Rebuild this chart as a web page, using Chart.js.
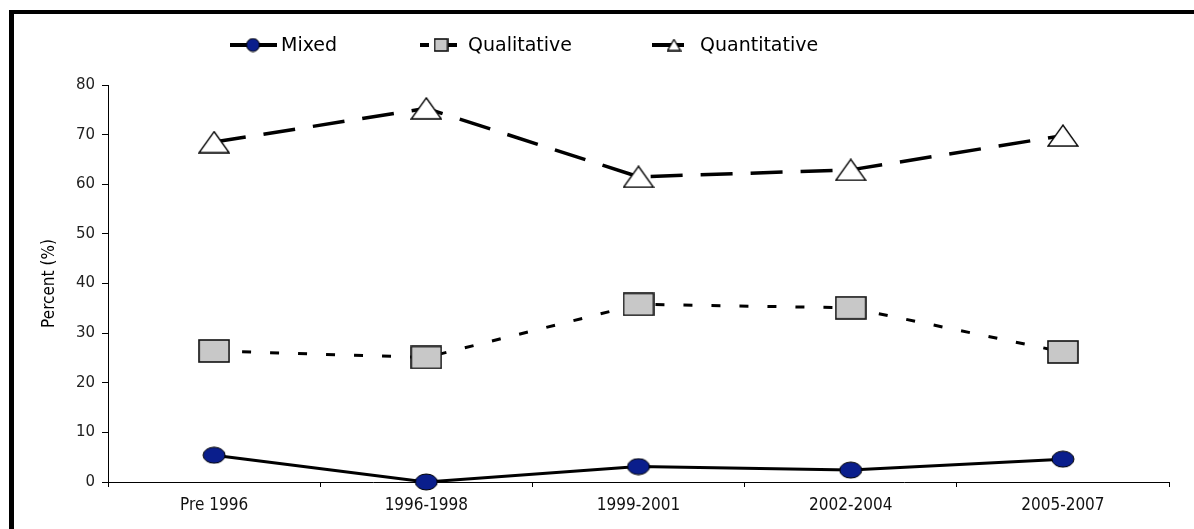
<!DOCTYPE html>
<html>
<head>
<meta charset="utf-8">
<script src="https://cdn.jsdelivr.net/npm/chart.js@4"></script>
<style>
  html, body { margin: 0; padding: 0; background: #fff; }
  #wrap { position: relative; width: 1194px; height: 529px; }
</style>
</head>
<body>
<div id="wrap"><canvas id="myChart"></canvas></div>
<script>
// data
const periods = ['Pre 1996', '1996-1998', '1999-2001', '2002-2004', '2005-2007'];
const mixedValues = [5.4, 0, 3.1, 2.4, 4.6];
const qualitativeValues = [26.4, 25.1, 35.8, 35.1, 26.2];
const quantitativeValues = [68.5, 75.3, 61.5, 62.9, 69.8];
const yTicks = [0, 10, 20, 30, 40, 50, 60, 70, 80];

// marker images (the original markers are a bit wider than tall)
function makeEllipse(w, h) {
    const c = document.createElement('canvas');
    c.width = w + 2; c.height = h + 2;
    const g = c.getContext('2d');
    g.beginPath();
    g.ellipse(c.width / 2, c.height / 2, w / 2, h / 2, 0, 0, Math.PI * 2);
    g.fillStyle = '#0a1e8c';
    g.fill();
    g.lineWidth = 1;
    g.strokeStyle = '#000';
    g.stroke();
    return c;
}
function makeRect(w, h) {
    const c = document.createElement('canvas');
    c.width = w + 2; c.height = h + 2;
    const g = c.getContext('2d');
    g.fillStyle = '#c8c8c8';
    g.fillRect(1, 1, w, h);
    g.lineWidth = 1.6;
    g.strokeStyle = '#111';
    g.strokeRect(1, 1, w, h);
    return c;
}
function makeTriangle(w, h) {
    const c = document.createElement('canvas');
    c.width = w + 2; c.height = h + 2;
    const g = c.getContext('2d');
    g.beginPath();
    g.moveTo(c.width / 2, 1);
    g.lineTo(w + 1, h + 1);
    g.lineTo(1, h + 1);
    g.closePath();
    g.fillStyle = '#fff';
    g.fill();
    g.lineWidth = 1.3;
    g.strokeStyle = '#000';
    g.stroke();
    return c;
}

const markers = [makeEllipse(22, 16), makeRect(30, 22), makeTriangle(30, 21)];
const legendMarkers = [makeEllipse(13, 13), makeRect(13, 12), makeTriangle(13, 11)];

// frame: thick black edge on top and left
const framePlugin = {
    id: 'frame',
    beforeDraw(chart) {
        const ctx = chart.ctx;
        ctx.save();
        ctx.fillStyle = '#fff';
        ctx.fillRect(0, 0, chart.width, chart.height);
        ctx.fillStyle = '#000';
        ctx.fillRect(9, 10, 5, chart.height - 10);
        ctx.fillRect(9, 10, chart.width - 9, 4);
        ctx.restore();
    }
};

// legend drawn like the original: line sample with marker on it
const legendPlugin = {
    id: 'lineLegend',
    afterDraw(chart) {
        const ctx = chart.ctx;
        const y = 45;
        const items = [
            { x0: 230, x1: 277, mx: 253, tx: 281, dashOffset: 0 },
            { x0: 420, x1: 464, mx: 441, tx: 468, dashOffset: 0 },
            { x0: 652, x1: 696, mx: 674, tx: 700, dashOffset: 0 }
        ];
        ctx.save();
        chart.data.datasets.forEach((ds, i) => {
            const it = items[i];
            ctx.beginPath();
            ctx.setLineDash(ds.borderDash || []);
            ctx.lineDashOffset = it.dashOffset;
            ctx.lineWidth = 4;
            ctx.strokeStyle = ds.borderColor;
            ctx.moveTo(it.x0, y);
            ctx.lineTo(it.x1, y);
            ctx.stroke();
            ctx.setLineDash([]);
            const m = legendMarkers[i];
            ctx.drawImage(m, it.mx - m.width / 2, y - m.height / 2);
            ctx.fillStyle = '#000';
            ctx.font = '19px "DejaVu Sans"';
            ctx.textBaseline = 'middle';
            ctx.textAlign = 'left';
            ctx.fillText(ds.label, it.tx, y + 1);
        });
        ctx.restore();
    }
};

const ctx = document.getElementById('myChart').getContext('2d');
new Chart(ctx, {
    type: 'line',
    data: {
        labels: periods,
        datasets: [
            {
                label: 'Mixed',
                data: mixedValues,
                borderColor: '#000',
                borderWidth: 3,
                pointStyle: markers[0],
                pointRadius: 10,
                clip: false
            },
            {
                label: 'Qualitative',
                data: qualitativeValues,
                borderColor: '#000',
                borderWidth: 3,
                borderDash: [9, 19],
                pointStyle: markers[1],
                pointRadius: 12,
                clip: false
            },
            {
                label: 'Quantitative',
                data: quantitativeValues,
                borderColor: '#000',
                borderWidth: 3.5,
                borderDash: [32, 18],
                pointStyle: markers[2],
                pointRadius: 12,
                clip: false
            }
        ]
    },
    options: {
        responsive: true,
        maintainAspectRatio: false,
        animation: false,
        events: [],
        layout: {
            padding: { left: 0, right: 25, top: 85, bottom: 0 }
        },
        elements: {
            line: { tension: 0, fill: false }
        },
        plugins: {
            legend: { display: false },
            tooltip: { enabled: false }
        },
        scales: {
            x: {
                offset: true,
                grid: {
                    drawOnChartArea: false,
                    drawTicks: true,
                    tickLength: 5,
                    color: '#000',
                    offset: true
                },
                border: { display: true, color: '#000', width: 1 },
                ticks: {
                    color: '#111',
                    font: { family: '"DejaVu Sans Condensed"', size: 17 },
                    padding: 8,
                    maxRotation: 0,
                    autoSkip: false
                },
                afterFit(scale) { scale.height = 47; }
            },
            y: {
                min: 0,
                max: 80,
                afterBuildTicks(scale) {
                    scale.ticks = yTicks.map(v => ({ value: v }));
                },
                grid: {
                    drawOnChartArea: false,
                    drawTicks: true,
                    tickLength: 6,
                    color: '#000'
                },
                border: { display: true, color: '#000', width: 1 },
                ticks: {
                    color: '#222',
                    font: { family: '"DejaVu Sans"', size: 15 },
                    padding: 7
                },
                title: {
                    display: true,
                    text: 'Percent (%)',
                    color: '#000',
                    font: { family: '"DejaVu Sans Condensed"', size: 17 },
                    padding: { top: 39, bottom: 0 }
                },
                afterFit(scale) { scale.width = 108; }
            }
        }
    },
    plugins: [framePlugin, legendPlugin]
});
</script>
</body>
</html>
